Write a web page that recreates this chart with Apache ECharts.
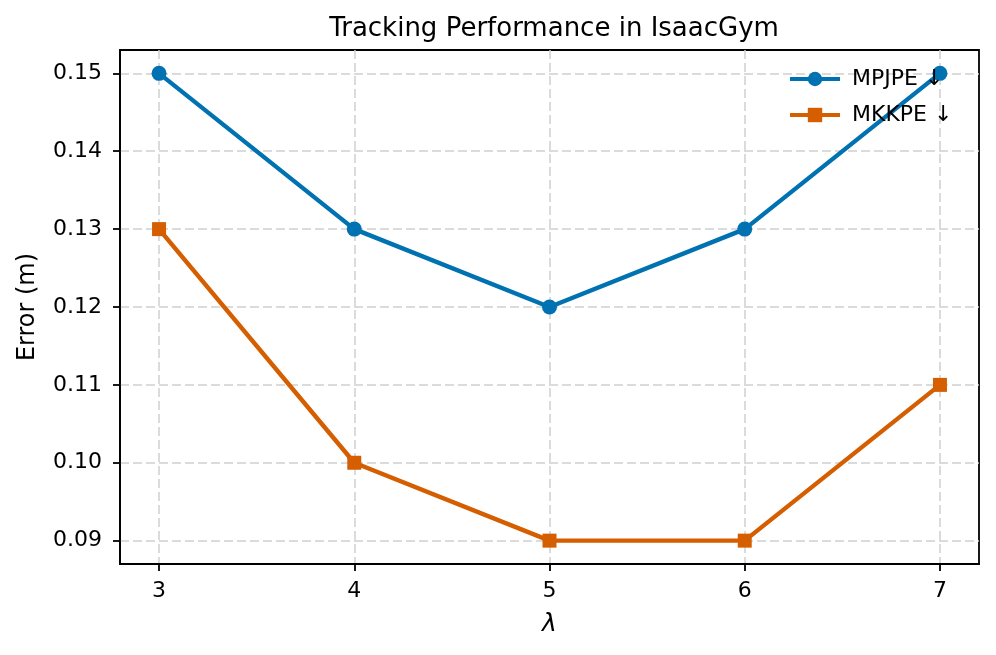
<!DOCTYPE html>
<html><head><meta charset="utf-8">
<script src="https://cdn.jsdelivr.net/npm/echarts@6/dist/echarts.min.js"></script>
<style>html,body{margin:0;padding:0;background:#fff}#c{width:996px;height:655px}</style>
</head><body><div id="c"></div>
<script>
const lambdas = [3, 4, 5, 6, 7];
const mpjpe = [0.15, 0.13, 0.12, 0.13, 0.15];
const mkkpe = [0.13, 0.10, 0.09, 0.09, 0.11];
const xTicks = [3, 4, 5, 6, 7];
const yTicks = [0.09, 0.10, 0.11, 0.12, 0.13, 0.14, 0.15];
const seriesNames = ['MPJPE ↓', 'MKKPE ↓'];

const font = 'DejaVu Sans';
const chart = echarts.init(document.getElementById('c'));
chart.setOption({
  animation: false,
  backgroundColor: '#fff',
  textStyle: {fontFamily: font},
  title: {text: 'Tracking Performance in IsaacGym', left: 549, top: 11, textAlign: 'center',
    textStyle: {fontFamily: font, fontSize: 26, fontWeight: 'normal', color: '#000'}},
  grid: {left: 120, right: 17, top: 50, bottom: 91, outerBoundsMode: 'none', containLabel: false,
    show: true, borderColor: '#000', borderWidth: 1.8, backgroundColor: 'transparent'},
  legend: {top: 62, left: 783, orient: 'vertical', itemGap: 12, itemWidth: 50, itemHeight: 18,
    lineStyle: {width: 4},
    textStyle: {fontFamily: font, fontSize: 22, color: '#000', padding: [0, 0, 0, 7], lineHeight: 24}, data: seriesNames},
  xAxis: {type: 'value', min: 2.8, max: 7.2,
    name: 'λ', nameLocation: 'middle', nameGap: 48,
    nameTextStyle: {fontFamily: font, fontSize: 25, fontStyle: 'italic', color: '#000'},
    axisLine: {show: true, onZero: false, lineStyle: {color: '#000', width: 1.8}},
    axisTick: {show: true, length: 7, lineStyle: {color: '#000', width: 1.8}, customValues: xTicks},
    axisLabel: {customValues: xTicks, fontFamily: font, fontSize: 22, color: '#000', margin: 16},
    splitLine: {show: true, lineStyle: {color: '#d0d0d0', type: [9, 4], width: 1.5}}
  },
  yAxis: {type: 'value', min: 0.087, max: 0.153,
    name: 'Error (m)', nameLocation: 'middle', nameGap: 80,
    nameTextStyle: {fontFamily: font, fontSize: 24, color: '#000'},
    axisLine: {show: true, lineStyle: {color: '#000', width: 1.8}},
    axisTick: {show: true, length: 7, lineStyle: {color: '#000', width: 1.8}, customValues: yTicks},
    axisLabel: {customValues: yTicks, fontFamily: font, fontSize: 22, color: '#000', margin: 18,
      formatter: v => v.toFixed(2)},
    splitLine: {show: true, lineStyle: {color: '#d0d0d0', type: [9, 4], width: 1.5}}
  },
  series: [
    {name: seriesNames[0], type: 'line', data: lambdas.map((x, i) => [x, mpjpe[i]]),
      symbol: 'circle', symbolSize: 15, color: '#0072B2',
      lineStyle: {width: 4.4, color: '#0072B2'}, itemStyle: {color: '#0072B2'}},
    {name: seriesNames[1], type: 'line', data: lambdas.map((x, i) => [x, mkkpe[i]]),
      symbol: 'rect', symbolSize: 14, color: '#D55E00',
      lineStyle: {width: 4.4, color: '#D55E00'}, itemStyle: {color: '#D55E00'}}
  ]
});
</script></body></html>
